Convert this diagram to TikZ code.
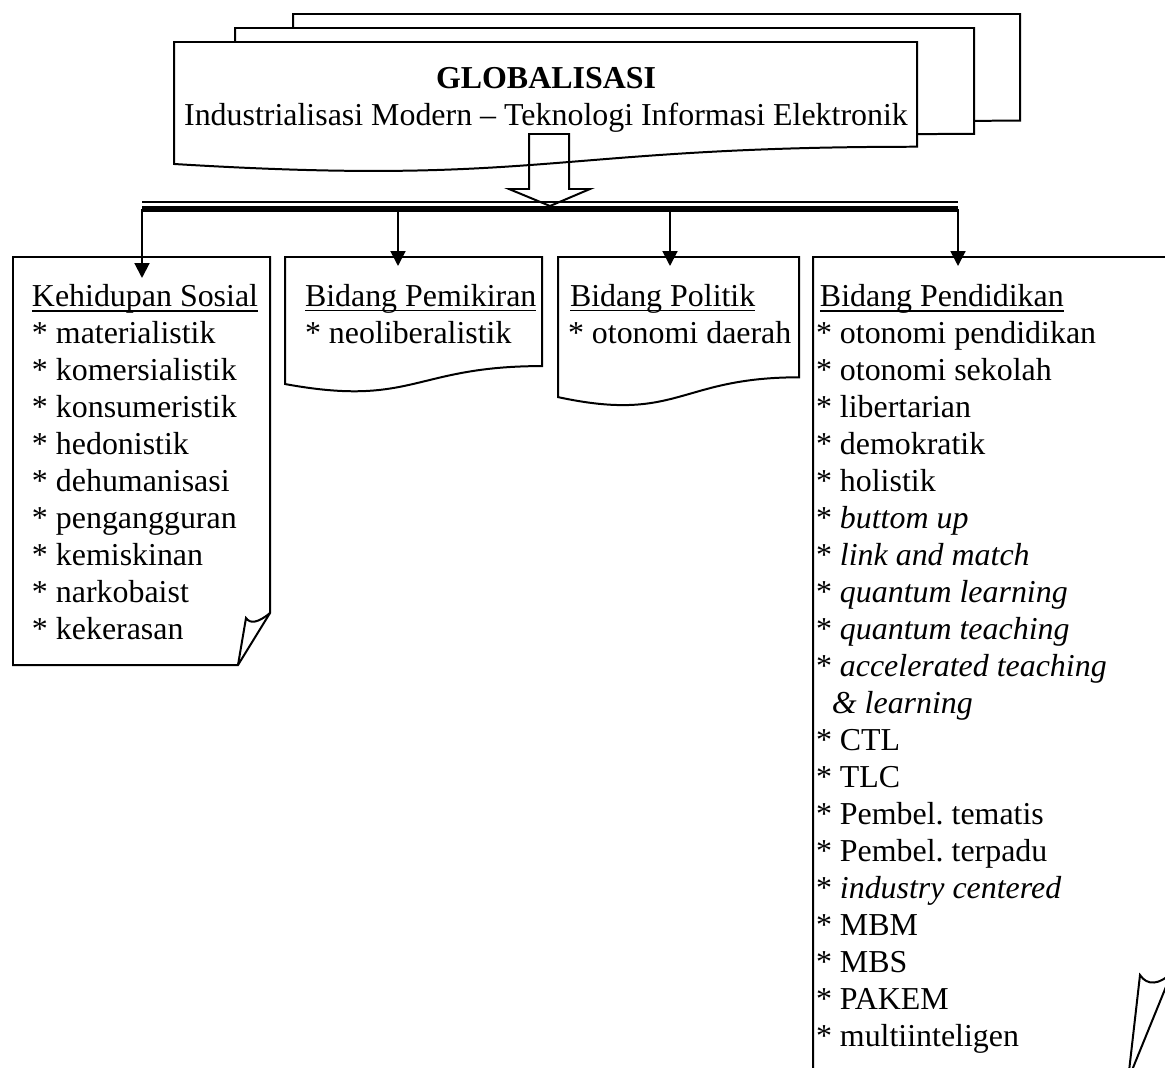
\documentclass[tikz,border=0pt]{standalone}
\usepackage{fontspec}
\setmainfont{Liberation Serif}
\usepackage{tikz}
\usetikzlibrary{arrows.meta}
\frenchspacing
\newcommand{\docpage}[5][]{%
  \draw[#1] (#2,#3) -- ({#2+#4},#3) -- ({#2+#4},{#3+0.802*#5})
    .. controls ({#2+0.5*#4},{#3+0.802*#5}) and ({#2+0.5*#4},{#3+1.1075*#5}) .. (#2,{#3+0.934*#5}) -- cycle;}
\newcommand{\undertxt}[1]{\setbox0=\hbox{#1}\rlap{\rule[-1.7pt]{\wd0}{0.7pt}}\box0}

\begin{document}
\begin{tikzpicture}[x=0.376pt, y=-0.376pt, line width=0.75pt,
  txt/.style={anchor=north west, inner sep=0pt, align=left, font=\fontsize{12}{13.9}\selectfont},
  down/.style={-{Triangle[length=5.6pt,width=5.6pt]}}]
\useasboundingbox (0,0) rectangle (1165,1067);
\clip (0,0) rectangle (1165,1067);
\docpage[fill=white]{293}{14}{727}{133}
\docpage[fill=white]{235}{28}{739}{132}
\docpage[fill=white]{174}{42}{743}{130.6}
\node[txt, anchor=north, align=center] (glob) at (546,62.1)
  {\strut\textbf{GLOBALISASI}\\Industrialisasi Modern \textendash{} Teknologi Informasi Elektronik};
\coordinate (globtip) at (550,206);
\draw (globtip) -- ++(-41,-17) -- ++(20,0) -- ++(0,-55) -- ++(40,0) -- ++(0,55) -- ++(21,0) -- cycle;
\coordinate (barL) at (142,209);
\coordinate (barR) at (958,209);
\draw (142,202) -- (958,202);
\draw[line width=2.3pt] (barL) -- (barR);
% kotak
\draw[fill=white] (13,257) -- (270,257) -- (270,613) -- (238,665) -- (13,665) -- cycle;
\draw (238,665) -- (246,618) .. controls (250,624) and (258,623) .. (270,613);
\docpage{285}{257}{257}{136}
\docpage{558}{257}{241}{150}
\draw (813,257) -- (1172,257) -- (1172,972) -- (1128,1080) -- (813,1080) -- cycle;
\draw (1128,1080) -- (1140,975) .. controls (1147,986) and (1160,985) .. (1172,972);
\coordinate (barPik) at (398,209);
\coordinate (barPol) at (670,209);
\coordinate (inSos) at (142,278);
\coordinate (inPik) at (398,266);
\coordinate (inPol) at (670,266);
\coordinate (inPend) at (958,266);
\draw[down] (barL) -- (inSos);
\draw[down] (barPik) -- (inPik);
\draw[down] (barPol) -- (inPol);
\draw[down] (barR) -- (inPend);
% isi
\node[txt] (sosial) at (31,280.1) {\strut\undertxt{Kehidupan Sosial}\\{*} materialistik\\{*} komersialistik\\{*} konsumeristik\\{*} hedonistik\\{*} dehumanisasi\\{*} pengangguran\\{*} kemiskinan\\{*} narkobaist\\{*} kekerasan};
\node[txt] (pikir) at (304,280.1) {\strut\undertxt{Bidang Pemikiran}\\{*} neoliberalistik};
\node[txt] (politik) at (567,280.1) {\strut\hspace*{0.75pt}\undertxt{Bidang Politik}\\{*} otonomi daerah};
\node[txt] (didik) at (815,280.1) {\strut\hspace*{1.5pt}\undertxt{Bidang Pendidikan}\\{*} otonomi pendidikan\\{*} otonomi sekolah\\{*} libertarian\\{*} demokratik\\{*} holistik\\{*} \textit{buttom up}\\{*} \textit{link and match}\\{*} \textit{quantum learning}\\{*} \textit{quantum teaching}\\{*} \textit{accelerated teaching}\\\hspace*{6pt}\textit{\& learning}\\{*} CTL\\{*} TLC\\{*} Pembel. tematis\\{*} Pembel. terpadu\\{*} \textit{industry centered}\\{*} MBM\\{*} MBS\\{*} PAKEM\\{*} multiinteligen};
\end{tikzpicture}
\end{document}
